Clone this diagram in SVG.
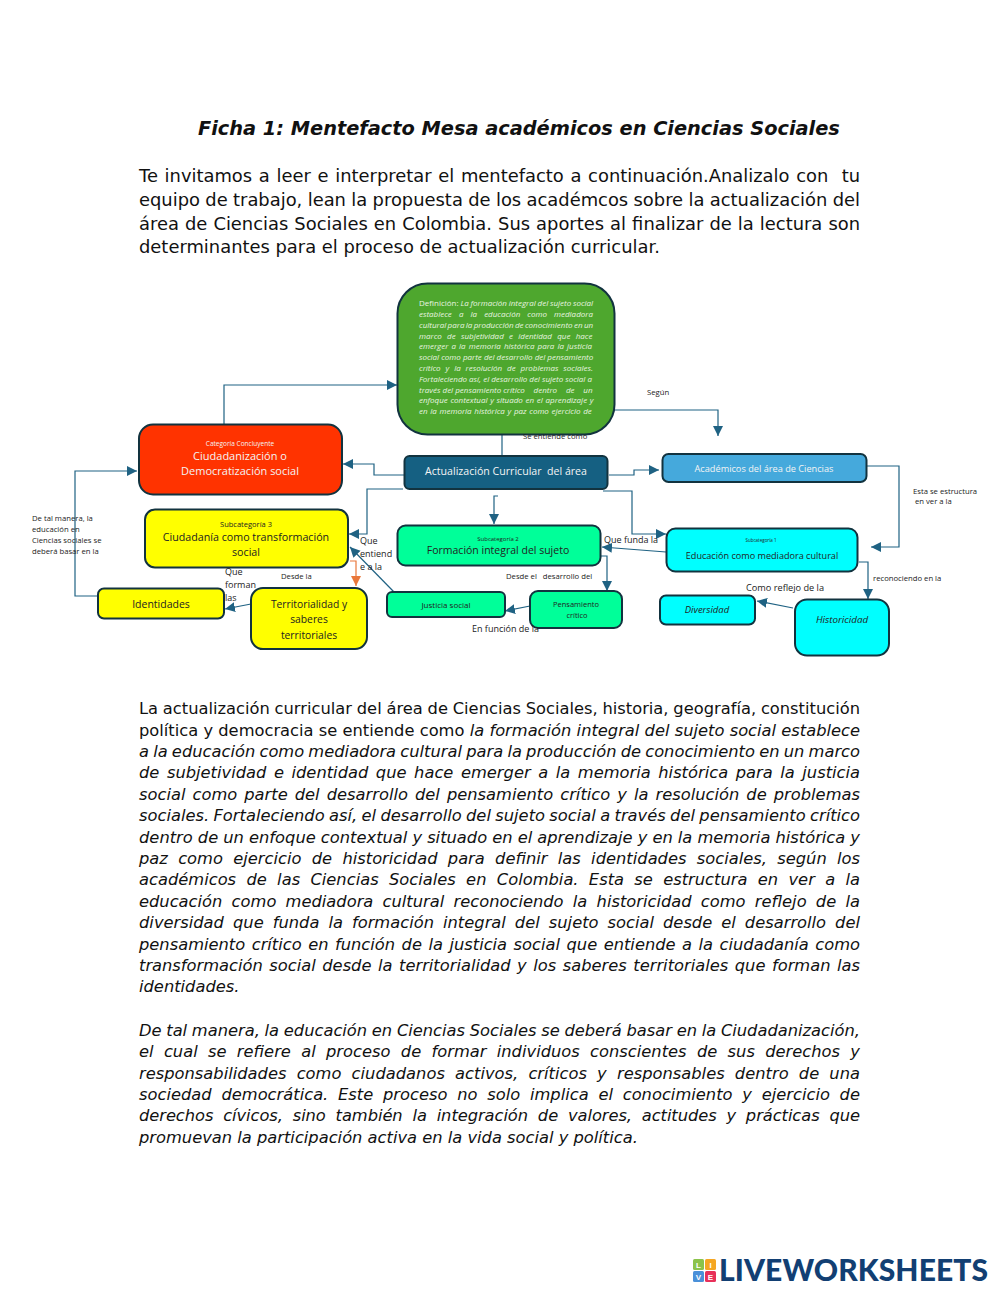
<svg xmlns="http://www.w3.org/2000/svg" width="1000" height="1294" viewBox="0 0 1000 1294">
<style>
text{font-family:"Open Sans","Liberation Sans",sans-serif;fill:#222}
.t,.p,.q{font-family:"DejaVu Sans",sans-serif;fill:#111}
.t{font-size:19.35px;font-weight:700;font-style:italic}
.p{font-size:17.9px}
.q{font-size:16.3px}
.i{font-style:italic}
.c{fill:none;stroke:#1f6283;stroke-width:1.2;marker-end:url(#a)}
.n{stroke:#12333f;stroke-width:2}
.m{text-anchor:middle}
.l{font-size:7.7px}
.g{font-size:8px;font-style:italic;fill:#e9f5e0}
.w{fill:#f4f4f4}
.y{fill:#ffff00}.s{fill:#00ff99}.b{fill:#00ffff}
</style>
<defs>
<marker id="a" markerUnits="userSpaceOnUse" markerWidth="12" markerHeight="12" refX="10" refY="5" orient="auto"><path d="M0 0L10 5L0 10z" fill="#1f6283"/></marker>
<marker id="o" markerUnits="userSpaceOnUse" markerWidth="12" markerHeight="12" refX="10" refY="5" orient="auto"><path d="M0 0L10 5L0 10z" fill="#e9773a"/></marker>
</defs>
<rect width="1000" height="1294" fill="#fff"/>
<g id="texto-superior">
<text class="t" x="198" y="135">Ficha 1: Mentefacto Mesa académicos en Ciencias Sociales</text>
<text class="p" x="139" y="182" word-spacing="1" xml:space="preserve" textLength="721">Te invitamos a leer e interpretar el mentefacto a continuación.Analizalo con  tu</text>
<text class="p" x="139" y="206" word-spacing="-.33" textLength="721">equipo de trabajo, lean la propuesta de los académcos sobre la actualización del</text>
<text class="p" x="139" y="230" word-spacing=".38" textLength="721">área de Ciencias Sociales en Colombia. Sus aportes al finalizar de la lectura son</text>
<text class="p" x="139" y="253">determinantes para el proceso de actualización curricular.</text>
</g>
<g id="conectores">
<path class="c" d="M224 424V385H397"/>
<path class="c" d="M614 410H718V436"/>
<path class="c" d="M502 434V456" style="marker-end:none"/>
<path class="c" d="M404 475H374V464H343"/>
<path class="c" d="M609 475H634V470H659"/>
<path class="c" d="M403 489H367V534H349"/>
<path class="c" d="M498 496H494V524"/>
<path class="c" d="M603 491H632V534H666"/>
<path class="c" d="M867 466H899V547H871"/>
<path class="c" d="M666 552L602 547"/>
<path class="c" d="M859 562H868V599"/>
<path class="c" d="M793 608L757 601"/>
<path class="c" d="M601 556H607V591"/>
<path class="c" d="M530 606L505 611"/>
<path class="c" d="M394 592L350 547"/>
<path class="c" d="M350 561H356V586" style="stroke:#e9773a;marker-end:url(#o)"/>
<path class="c" d="M251 604L225 609"/>
<path class="c" d="M97 596H75V471H137"/>
</g>
<g id="definicion">
<rect class="n" x="397.500" y="283.500" width="217" height="151" rx="30" fill="#4ea72e"/>
<text class="g" x="419" y="306" word-spacing="-.3"><tspan font-style="normal">Definición: </tspan>La formación integral del sujeto social</text>
<text class="g" x="419" y="317" word-spacing="5">establece a la educación como mediadora</text>
<text class="g" x="419" y="328" word-spacing="-.7">cultural para la producción de conocimiento en un</text>
<text class="g" x="419" y="339" word-spacing="3.2">marco de subjetividad e identidad que hace</text>
<text class="g" x="419" y="349" word-spacing="1">emerger a la memoria histórica para la justicia</text>
<text class="g" x="419" y="360">social como parte del desarrollo del pensamiento</text>
<text class="g" x="419" y="371" word-spacing="2.85">crítico y la resolución de problemas sociales.</text>
<text class="g" x="419" y="382">Fortaleciendo así, el desarrollo del sujeto social a</text>
<text class="g" x="419" y="393">través del pensamiento crítico <tspan dx="6.700">dentro</tspan> <tspan dx="6.700">de</tspan> <tspan dx="6.700">un</tspan></text>
<text class="g" x="419" y="403" word-spacing=".6">enfoque contextual y situado en el aprendizaje y</text>
<text class="g" x="419" y="414" word-spacing=".6">en la memoria histórica y paz como ejercicio de</text>
</g>
<g id="ciudadanizacion">
<rect class="n" x="139" y="424.500" width="203" height="70" rx="14" fill="#ff3300"/>
<text class="m w" x="240" y="446" font-size="6.500">Categoría Concluyente</text>
<text class="m w" x="240" y="460" font-size="11">Ciudadanización o</text>
<text class="m w" x="240" y="475" font-size="11">Democratización social</text>
</g>
<g id="actualizacion">
<rect class="n" x="404.500" y="456" width="203" height="33" rx="5" fill="#156082"/>
<text class="m w" x="506" y="475" font-size="10.600" xml:space="preserve">Actualización Curricular  del área</text>
</g>
<g id="academicos">
<rect class="n" x="662.500" y="454" width="204" height="28" rx="6" fill="#45a9dc"/>
<text class="m w" x="764" y="472" font-size="9.200">Académicos del área de Ciencias</text>
</g>
<g id="subcategoria-3">
<rect class="n y" x="145" y="509.500" width="203" height="58" rx="10"/>
<text class="m" x="246" y="527" font-size="7.500">Subcategoría 3</text>
<text class="m" x="246" y="541" font-size="10.700">Ciudadanía como transformación</text>
<text class="m" x="246" y="556" font-size="10.700">social</text>
</g>
<g id="subcategoria-2">
<rect class="n s" x="397.500" y="525.500" width="203" height="40" rx="8"/>
<text class="m" x="498" y="541" font-size="6">Subcategoría 2</text>
<text class="m" x="498" y="554" font-size="10.500">Formación integral del sujeto</text>
</g>
<g id="subcategoria-1">
<rect class="n b" x="666.500" y="528.500" width="191" height="43" rx="9"/>
<text class="m" x="761" y="542" font-size="4.500">Subcategoría 1</text>
<text class="m" x="762" y="559" font-size="9.100">Educación como mediadora cultural</text>
</g>
<g id="identidades">
<rect class="n y" x="98" y="588.500" width="126" height="30" rx="6"/>
<text class="m" x="161" y="608" font-size="10.500">Identidades</text>
</g>
<g id="territorialidad">
<rect class="n y" x="251" y="588" width="116" height="61" rx="12"/>
<text class="m" x="309" y="608" font-size="10.300">Territorialidad y</text>
<text class="m" x="309" y="623" font-size="10.300">saberes</text>
<text class="m" x="309" y="639" font-size="10.300">territoriales</text>
</g>
<g id="justicia">
<rect class="n s" x="387" y="592" width="118" height="25" rx="5"/>
<text class="m" x="446" y="608" font-size="8">Justicia social</text>
</g>
<g id="pensamiento">
<rect class="n s" x="530" y="591" width="92" height="37" rx="8"/>
<text class="m" x="576" y="607" font-size="7.500">Pensamiento</text>
<text class="m" x="577" y="618" font-size="7.500">crítico</text>
</g>
<g id="diversidad">
<rect class="n b" x="660" y="595.500" width="95" height="29" rx="6"/>
<text class="m i" x="707" y="613" font-size="9.500">Diversidad</text>
</g>
<g id="historicidad">
<rect class="n b" x="795" y="599.500" width="94" height="56" rx="12"/>
<text class="m i" x="842" y="623" font-size="9.800">Historicidad</text>
</g>
<g id="etiquetas">
<text class="l" x="647" y="395">Según</text>
<text class="l" x="523" y="439">Se entiende como</text>
<text class="l" x="913" y="494">Esta se estructura</text>
<text class="l" x="915" y="504"> en ver a la</text>
<text class="l" x="32" y="521">De tal manera, la</text>
<text class="l" x="32" y="532">educación en</text>
<text class="l" x="32" y="543">Ciencias sociales se</text>
<text class="l" x="32" y="554">deberá basar en la</text>
<text font-size="9" x="360" y="544">Que</text>
<text font-size="9" x="360" y="557">entiend</text>
<text font-size="9" x="360" y="570">e a la</text>
<text font-size="9" x="225" y="575">Que</text>
<text font-size="9" x="225" y="588">forman</text>
<text font-size="9" x="225" y="601">las</text>
<text class="l" x="281" y="579">Desde la</text>
<text class="l" x="506" y="579" xml:space="preserve">Desde el   desarrollo del</text>
<text font-size="9" x="472" y="632">En función de la</text>
<text font-size="9" x="604" y="543">Que funda la</text>
<text class="l" x="873" y="581">reconociendo en la</text>
<text font-size="9.200" x="746" y="591">Como reflejo de la</text>
</g>
<g id="texto-inferior">
<text class="q" x="139" y="714" word-spacing="-.4" textLength="721">La actualización curricular del área de Ciencias Sociales, historia, geografía, constitución</text>
<text class="q" x="139" y="735.500" word-spacing=".08" textLength="721">política y democracia se entiende como <tspan class="i">la formación integral del sujeto social establece</tspan></text>
<text class="q i" x="139" y="757" word-spacing="-1" textLength="721">a la educación como mediadora cultural para la producción de conocimiento en un marco</text>
<text class="q i" x="139" y="778" word-spacing="2.38" textLength="721">de subjetividad e identidad que hace emerger a la memoria histórica para la justicia</text>
<text class="q i" x="139" y="800" word-spacing="1.83" textLength="721">social como parte del desarrollo del pensamiento crítico y la resolución de problemas</text>
<text class="q i" x="139" y="821" word-spacing="-.83" textLength="721">sociales. Fortaleciendo así, el desarrollo del sujeto social a través del pensamiento crítico</text>
<text class="q i" x="139" y="843" word-spacing="-.12" textLength="721">dentro de un enfoque contextual y situado en el aprendizaje y en la memoria histórica y</text>
<text class="q i" x="139" y="864" word-spacing="5.09" textLength="721">paz como ejercicio de historicidad para definir las identidades sociales, según los</text>
<text class="q i" x="139" y="885" word-spacing="5.15" textLength="721">académicos de las Ciencias Sociales en Colombia. Esta se estructura en ver a la</text>
<text class="q i" x="139" y="907" word-spacing="4.1" textLength="721">educación como mediadora cultural reconociendo la historicidad como reflejo de la</text>
<text class="q i" x="139" y="928" word-spacing="3.83" textLength="721">diversidad que funda la formación integral del sujeto social desde el desarrollo del</text>
<text class="q i" x="139" y="950" word-spacing="1.31" textLength="721">pensamiento crítico en función de la justicia social que entiende a la ciudadanía como</text>
<text class="q i" x="139" y="971" word-spacing="1.36" textLength="721">transformación social desde la territorialidad y los saberes territoriales que forman las</text>
<text class="q i" x="139" y="992">identidades.</text>
<text class="q i" x="139" y="1036" word-spacing="-.46" textLength="721">De tal manera, la educación en Ciencias Sociales se deberá basar en la Ciudadanización,</text>
<text class="q i" x="139" y="1057" word-spacing="5.15" textLength="721">el cual se refiere al proceso de formar individuos conscientes de sus derechos y</text>
<text class="q i" x="139" y="1079" word-spacing="5" textLength="721">responsabilidades como ciudadanos activos, críticos y responsables dentro de una</text>
<text class="q i" x="139" y="1100" word-spacing="4.55" textLength="721">sociedad democrática. Este proceso no solo implica el conocimiento y ejercicio de</text>
<text class="q i" x="139" y="1121" word-spacing="4.7" textLength="721">derechos cívicos, sino también la integración de valores, actitudes y prácticas que</text>
<text class="q i" x="139" y="1143">promuevan la participación activa en la vida social y política.</text>
</g>
<g id="logo">
<rect x="693" y="1259" width="11" height="11" rx="1.500" fill="#8bc34a"/>
<rect x="705" y="1259" width="11" height="11" rx="1.500" fill="#f5a623"/>
<rect x="693" y="1271" width="11" height="11" rx="1.500" fill="#4a90d9"/>
<rect x="705" y="1271" width="11" height="11" rx="1.500" fill="#e8305a"/>
<text x="698.500" y="1268" font-size="8" font-weight="700" class="m" style="fill:#fff;font-family:'Liberation Sans',sans-serif">L</text>
<text x="710.500" y="1268" font-size="8" font-weight="700" class="m" style="fill:#fff;font-family:'Liberation Sans',sans-serif">I</text>
<text x="698.500" y="1280" font-size="8" font-weight="700" class="m" style="fill:#fff;font-family:'Liberation Sans',sans-serif">V</text>
<text x="710.500" y="1280" font-size="8" font-weight="700" class="m" style="fill:#fff;font-family:'Liberation Sans',sans-serif">E</text>
<text x="719" y="1280.500" font-size="30" font-weight="900" textLength="269" style="fill:#123f73;font-family:Lato,'Liberation Sans',sans-serif">LIVEWORKSHEETS</text>
</g>
</svg>
